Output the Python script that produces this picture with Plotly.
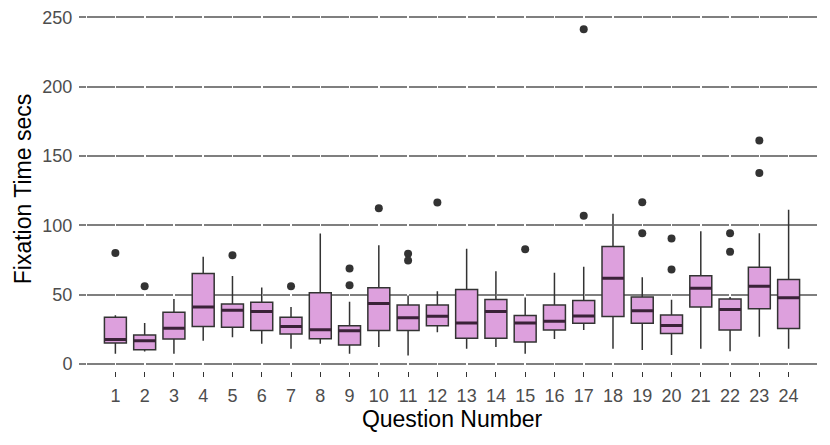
import plotly.graph_objects as go

questions = [str(i) for i in range(1, 25)]
lower_whisker = [7.2, 8.9, 7.2, 16.7, 19.1, 14.5, 10.9, 14.5, 7.2, 12.1, 6.0, 22.7,
                 10.9, 12.1, 7.2, 17.9, 24.3, 10.9, 10.0, 6.3, 10.9, 9.0, 19.5, 10.9]
q1 = [15.0, 10.1, 17.9, 27.0, 26.3, 24.1, 21.5, 18.1, 13.5, 24.1, 24.1, 27.5,
      18.4, 18.4, 15.7, 24.4, 29.2, 34.1, 29.2, 21.9, 40.9, 24.3, 39.7, 25.5]
median = [17.6, 16.7, 25.6, 41.0, 38.6, 37.7, 27.0, 24.6, 23.9, 43.5, 33.3, 34.3,
          29.5, 37.7, 29.5, 30.7, 34.5, 61.8, 38.2, 27.7, 54.5, 39.2, 56.0, 47.7]
q3 = [33.6, 20.8, 37.2, 65.2, 43.2, 44.4, 33.6, 51.2, 27.5, 54.8, 42.5, 42.5,
      53.6, 46.4, 34.8, 42.5, 45.7, 84.7, 48.2, 35.3, 63.5, 46.7, 69.6, 60.8]
upper_whisker = [35.0, 29.5, 46.8, 77.3, 63.3, 55.0, 41.0, 94.0, 44.7, 85.5, 49.3, 52.4,
                 83.1, 66.7, 47.8, 65.7, 70.1, 108.3, 62.5, 46.2, 95.6, 48.2, 94.2, 111.2]

outlier_q = ["1", "2", "5", "7", "9", "9", "10", "11", "11", "12", "15", "17", "17",
             "19", "19", "20", "20", "22", "22", "23", "23"]
outlier_val = [80, 56, 78.3, 56, 68.8, 56.7, 112.3, 79.5, 74.6, 116.4, 82.6, 106.8, 241.5,
               116.5, 94.2, 90.5, 68.1, 94.2, 80.8, 137.7, 161.1]

y_ticks = [0, 50, 100, 150, 200, 250]

FILL = "#DDA0DD"
EDGE = "#333333"
XRANGE = [-0.97, 23.97]

fig = go.Figure()
fig.add_trace(go.Box(
    x=questions, q1=q1, median=median, q3=q3,
    lowerfence=lower_whisker, upperfence=upper_whisker,
    width=0.75,
    fillcolor=FILL, line=dict(color=EDGE, width=1.5),
    whiskerwidth=0, boxpoints=False, showlegend=False,
))
# thicker median bars (ggplot fatten)
fig.add_trace(go.Box(
    x=questions, q1=median, median=median, q3=median,
    lowerfence=median, upperfence=median,
    width=0.75,
    fillcolor="rgba(0,0,0,0)", line=dict(color="#3a2238", width=3),
    whiskerwidth=0, boxpoints=False, showlegend=False,
))
fig.add_trace(go.Scatter(
    x=outlier_q, y=outlier_val, mode="markers",
    marker=dict(color=EDGE, size=8), showlegend=False,
))

fig.update_layout(
    width=830, height=445,
    margin=dict(l=87, r=13, t=7, b=74),
    paper_bgcolor="white", plot_bgcolor="white",
    boxmode="overlay",
    font=dict(family="Liberation Sans, Arial, sans-serif"),
)
fig.update_xaxes(
    type="category", categoryorder="array", categoryarray=questions,
    range=XRANGE, automargin=False,
    showgrid=False,
    showline=False, zeroline=False,
    ticks="outside", ticklen=5, tickcolor="#333333", tickwidth=1,
    ticklabelstandoff=3,
    tickfont=dict(size=18, color="#4d4d4d"),
    title=dict(text="Question Number", font=dict(size=23, color="black"), standoff=5),
)
fig.update_yaxes(
    range=[-5.2, 257.5], automargin=False,
    tickvals=y_ticks, ticktext=[str(v) for v in y_ticks],
    showgrid=True, gridcolor="#7f7f7f", gridwidth=1.5,
    griddash="27.67px,1.6px",
    showline=False, zeroline=False,
    ticks="outside", ticklen=7, tickcolor="#7f7f7f", tickwidth=1.5,
    ticklabelstandoff=3,
    tickfont=dict(size=18, color="#4d4d4d"),
    title=dict(text="Fixation Time secs", font=dict(size=23, color="black"), standoff=4),
)

fig.write_html("out.html", config={"displayModeBar": False},
               post_script="document.body.style.margin='0px';")
